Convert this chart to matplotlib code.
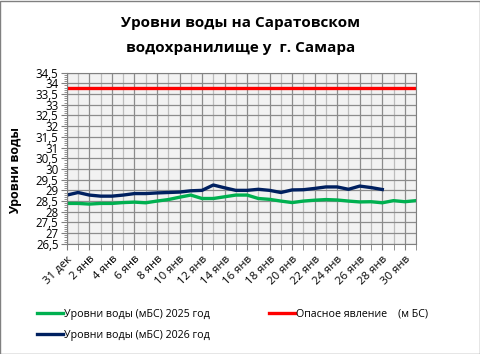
import matplotlib.pyplot as plt
from matplotlib.patches import Rectangle
from matplotlib.ticker import MultipleLocator, FuncFormatter
import numpy as np

plt.rcParams['font.family'] = ['Open Sans', 'DejaVu Sans']

# данные: уровни воды по дням (31 дек .. 31 янв)
days_2025 = np.arange(0, 32)
levels_2025 = [28.39, 28.39, 28.36, 28.39, 28.39, 28.43, 28.45, 28.42, 28.50, 28.57,
               28.68, 28.78, 28.62, 28.62, 28.70, 28.78, 28.78, 28.62, 28.58, 28.50,
               28.43, 28.50, 28.54, 28.57, 28.55, 28.50, 28.46, 28.47, 28.42, 28.52,
               28.47, 28.52]
days_2026 = np.arange(0, 29)
levels_2026 = [28.78, 28.90, 28.78, 28.73, 28.73, 28.78, 28.85, 28.85, 28.88, 28.90,
               28.92, 28.98, 29.00, 29.25, 29.12, 29.00, 29.00, 29.05, 29.00, 28.90,
               29.02, 29.03, 29.09, 29.16, 29.16, 29.05, 29.20, 29.13, 29.04]
danger_days = [0, 31]
danger_level = [33.8, 33.8]

tick_labels = ['31 дек', '2 янв', '4 янв', '6 янв', '8 янв', '10 янв', '12 янв', '14 янв',
               '16 янв', '18 янв', '20 янв', '22 янв', '24 янв', '26 янв', '28 янв', '30 янв']

fig = plt.figure(figsize=(4.81, 3.54), dpi=100)
ax = fig.add_axes([0.139, 0.311, 0.726, 0.484])
ax.set_facecolor('#F2F2F2')

l1, = ax.plot(days_2025, levels_2025, color='#00B050', lw=2.4, label='Уровни воды (мБС) 2025 год')
l2, = ax.plot(days_2026, levels_2026, color='#002060', lw=2.4, label='Уровни воды (мБС) 2026 год')
l3, = ax.plot(danger_days, danger_level, color='#FF0000', lw=2.4, label='Опасное явление    (м БС)')

ax.set_xlim(0, 31)
ax.set_ylim(26.5, 34.5)
ax.set_xticks(np.arange(0, 31, 2))
ax.set_xticklabels(tick_labels, rotation=45, ha='right', rotation_mode='anchor', fontsize=8.2)
ax.xaxis.set_minor_locator(MultipleLocator(1))
ax.yaxis.set_major_locator(MultipleLocator(0.5))
ax.yaxis.set_minor_locator(MultipleLocator(0.1))
ax.yaxis.set_major_formatter(FuncFormatter(lambda v, p: ('%g' % v).replace('.', ',')))
ax.tick_params(axis='y', labelsize=8.3, pad=2, length=4, color='#808080')
ax.tick_params(axis='y', which='minor', length=2, color='#808080')
ax.tick_params(axis='x', which='both', length=4, color='#808080', pad=3)

ax.grid(which='major', color='#8C8C8C', lw=0.9)
ax.grid(which='minor', axis='x', color='#BDBDBD', lw=0.9)
ax.set_axisbelow(True)
for s in ax.spines.values():
    s.set_color('#808080')

ax.set_ylabel('Уровни воды', fontsize=9, fontweight='bold')
ax.yaxis.set_label_coords(-0.127, 0.43)

fig.text(0.5, 0.935, 'Уровни воды на Саратовском', ha='center', va='center',
         fontsize=11, fontweight='bold')
fig.text(0.5, 0.865, 'водохранилище у  г. Самара', ha='center', va='center',
         fontsize=11, fontweight='bold')

fig.legend(handles=[l1, l2, l3], ncol=2, loc='upper left', bbox_to_anchor=(0.068, 0.14),
           frameon=False, fontsize=7.7, handlelength=2.4, handletextpad=0.15,
           columnspacing=5.5, labelspacing=0.95, borderaxespad=0)

fig.patches.append(Rectangle((0.001, 0.001), 0.997, 0.997, transform=fig.transFigure,
                             fill=False, edgecolor='#808080', lw=1))

fig.savefig('out.png', dpi=100)
